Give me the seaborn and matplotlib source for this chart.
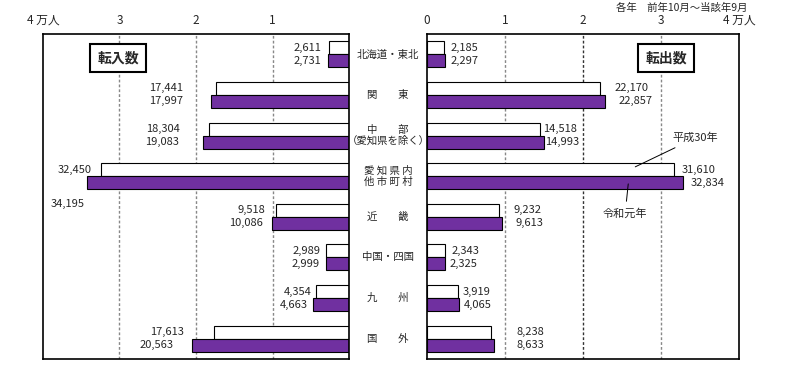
import seaborn as sns
from matplotlib import pyplot as plt
from matplotlib import transforms
import pandas as pd

# 転入・転出 (人)  各年 前年10月～当該年9月
areas = ['北海道・東北', '関　　東', '中　　部\n（愛知県を除く）', '愛 知 県 内\n他 市 町 村',
         '近　　畿', '中国・四国', '九　　州', '国　　外']
years = ['平成30年', '令和元年']
tennyu_h30 = [2611, 17441, 18304, 32450, 9518, 2989, 4354, 17613]
tennyu_r1 = [2731, 17997, 19083, 34195, 10086, 2999, 4663, 20563]
tenshutsu_h30 = [2185, 22170, 14518, 31610, 9232, 2343, 3919, 8238]
tenshutsu_r1 = [2297, 22857, 14993, 32834, 9613, 2325, 4065, 8633]

left_ticks = [40000, 30000, 20000, 10000]
left_ticklabels = ['4 万人', '3', '2', '1']
right_ticks = [0, 10000, 20000, 30000, 40000]
right_ticklabels = ['0', '1', '2', '3', '4 万人']

# ラベルとバー端の隙間(px)
gap_l = [[8, 32, 29, 9, 11, 6, 4, 30], [7, 28, 24, 0, 9, 6, 6, 18]]
gap_r = [[7, 15, 3, 8, 14, 6, 5, 25], [6, 13, 1, 8, 14, 4, 5, 22]]

sns.set_theme(style='white')
plt.rcParams['font.family'] = ['Noto Sans CJK JP', 'DejaVu Sans']

def make_df(h30, r1):
    return pd.DataFrame({
        'area': areas * 2,
        'year': [years[0]] * len(areas) + [years[1]] * len(areas),
        'value': h30 + r1,
    })

purple = '#7030a0'
fig = plt.figure(figsize=(8, 3.65), dpi=100)
ax_l = fig.add_axes([43 / 800, 1 - 359 / 365, 306 / 800, 325 / 365])
ax_r = fig.add_axes([427 / 800, 1 - 359 / 365, 312 / 800, 325 / 365])

for ax, h30, r1 in [(ax_l, tennyu_h30, tennyu_r1), (ax_r, tenshutsu_h30, tenshutsu_r1)]:
    sns.barplot(data=make_df(h30, r1), x='value', y='area', hue='year', orient='h',
                palette=['white', purple], saturation=1, edgecolor='black',
                linewidth=0.8, width=0.64, legend=False, ax=ax, zorder=2)
    ax.set_ylim(len(areas) - 0.5, -0.5)
    ax.set_xlabel('')
    ax.set_ylabel('')
    ax.xaxis.set_ticks_position('top')
    ax.tick_params(axis='x', length=0, pad=5, labelsize=8.5)
    ax.tick_params(axis='y', left=False, labelleft=False)
    for s in ax.spines.values():
        s.set_color('black')
        s.set_linewidth(1.2)
    for g in [10000, 20000, 30000]:
        c = '#333333' if (ax is ax_r and g == 20000) else '#888888'
        ax.axvline(g, color=c, lw=1, ls=(0, (2, 1.5)), zorder=0.5)

ax_l.set_xlim(40000, 0)
ax_l.set_xticks(left_ticks)
ax_l.set_xticklabels(left_ticklabels)
ax_r.set_xlim(0, 40000)
ax_r.set_xticks(right_ticks)
ax_r.set_xticklabels(right_ticklabels)

# 数値ラベル
for k, cont in enumerate(ax_l.containers):
    for i, p in enumerate(cont.patches):
        val = p.get_width()
        yc = p.get_y() + p.get_height() / 2
        if k == 1 and i == 3:
            ax_l.annotate(f'{val:,.0f}', (val, yc), xytext=(-20, -21),
                          textcoords='offset pixels', ha='center', va='center', fontsize=8)
        else:
            ax_l.annotate(f'{val:,.0f}', (val, yc), xytext=(-gap_l[k][i], 0),
                          textcoords='offset pixels', ha='right', va='center', fontsize=8)
for k, cont in enumerate(ax_r.containers):
    for i, p in enumerate(cont.patches):
        val = p.get_width()
        yc = p.get_y() + p.get_height() / 2
        ax_r.annotate(f'{val:,.0f}', (val, yc), xytext=(gap_r[k][i], 0),
                      textcoords='offset pixels', ha='left', va='center', fontsize=8)

# 地域名
trans = transforms.blended_transform_factory(ax_r.transAxes, ax_r.transData)
for i, a in enumerate(areas):
    ax_r.text(-0.125, i, a, transform=trans, ha='center', va='center',
              multialignment='center', fontsize=7.5, linespacing=1.1)

box = dict(boxstyle='square,pad=0.5', fc='white', ec='black', lw=1.5)
ax_l.text(0.245, 0.925, '転入数', transform=ax_l.transAxes, ha='center', va='center',
          fontsize=10, fontweight='bold', bbox=box)
ax_r.text(0.766, 0.925, '転出数', transform=ax_r.transAxes, ha='center', va='center',
          fontsize=10, fontweight='bold', bbox=box)

ax_r.annotate('平成30年', xy=(26700, 2.77), xytext=(34400, 2.06), ha='center', va='center',
              fontsize=8, arrowprops=dict(arrowstyle='-', color='black', lw=0.7, shrinkA=2, shrinkB=0))
ax_r.annotate('令和元年', xy=(25800, 3.19), xytext=(25400, 3.93), ha='center', va='center',
              fontsize=8, arrowprops=dict(arrowstyle='-', color='black', lw=0.7, shrinkA=3, shrinkB=0))

fig.text(748 / 800, 1 - 8 / 365, '各年　前年10月～当該年9月', ha='right', va='center', fontsize=7.5)

fig.savefig('out.png', dpi=100)
